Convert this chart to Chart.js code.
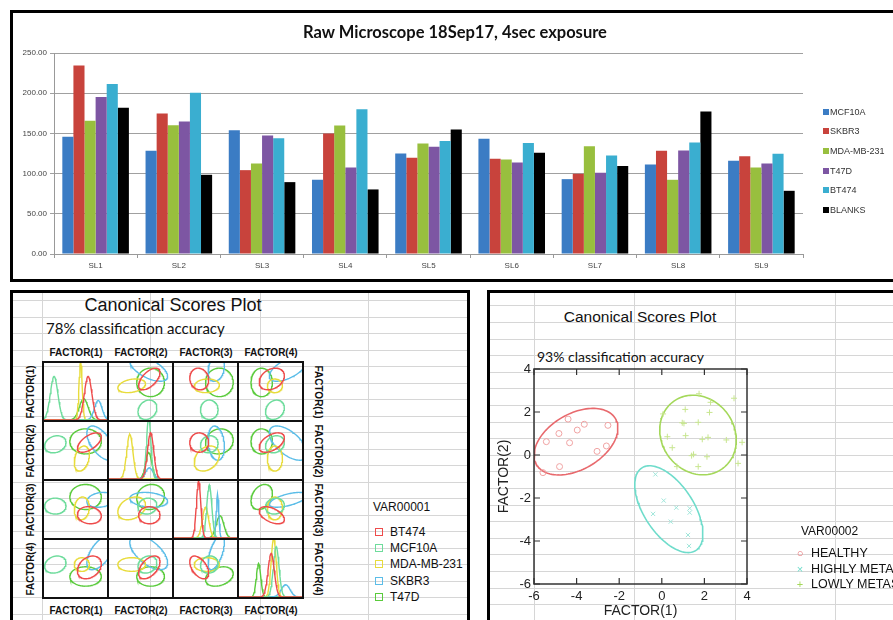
<!DOCTYPE html>
<html>
<head>
<meta charset="utf-8">
<script src="https://cdn.jsdelivr.net/npm/chart.js@4.4.0/dist/chart.umd.min.js"></script>
<style>
  body { margin: 0; width: 893px; height: 620px; overflow: hidden; background: #fff; position: relative; font-family: "Liberation Sans", Arial, sans-serif; }
  .abs { position: absolute; }
  .frame { position: absolute; border: 3px solid #000; box-sizing: border-box; }
  .txt { position: absolute; white-space: nowrap; transform: translate(-50%, -50%); color: #111; }
  .lft { position: absolute; white-space: nowrap; transform: translateY(-50%); color: #111; }
  .hdr { font-size: 10px; font-weight: bold; }
</style>
</head>
<body>
<div id="sheet"></div>
<canvas id="bars" class="abs" width="893" height="280" style="left:0;top:0"></canvas>
<div class="txt" style="left:455px;top:32px;font-size:16.5px;font-weight:bold;font-family:Lato">Raw Microscope 18Sep17, 4sec exposure</div>
<div class="frame" style="left:10px;top:10px;width:900px;height:272px"></div>
<div id="barLegend"></div>

<!-- bottom left panel -->
<div class="txt" style="left:173px;top:305px;font-size:18px">Canonical Scores Plot</div>
<div class="lft" style="left:46px;top:328px;font-size:15px;font-family:Lato">78% classification accuracy</div>
<div id="matrix"></div>
<div id="legend1"></div>
<div class="frame" style="left:10px;top:290px;width:460px;height:340px"></div>

<!-- bottom right panel -->
<div class="txt" style="left:640px;top:317px;font-size:15.5px">Canonical Scores Plot</div>
<div class="lft" style="left:537px;top:356px;font-size:14px;font-family:Lato">93% classification accuracy</div>
<canvas id="scores" class="abs" width="403" height="327" style="left:490px;top:293px"></canvas>
<div id="legend2"></div>
<div class="frame" style="left:487px;top:290px;width:420px;height:340px"></div>

<script>
// ---- top bar chart data ----
const slides = ['SL1', 'SL2', 'SL3', 'SL4', 'SL5', 'SL6', 'SL7', 'SL8', 'SL9'];
const mcf10a = [145.7, 128.3, 154.0, 92.3, 125.0, 143.2, 93.1, 111.3, 115.9];
const skbr3 = [234.3, 174.7, 104.3, 149.8, 119.6, 118.4, 99.8, 128.3, 121.7];
const mda231 = [165.6, 160.2, 112.6, 159.8, 137.4, 117.5, 134.1, 92.3, 107.6];
const t47d = [195.4, 164.7, 147.4, 107.6, 133.3, 113.8, 101.0, 128.7, 112.6];
const bt474 = [211.5, 200.7, 144.0, 180.0, 140.7, 138.2, 122.5, 138.7, 124.6];
const blanks = [182.0, 98.5, 89.4, 80.3, 154.8, 125.8, 109.3, 177.2, 78.6];
const barSeries = ['MCF10A', 'SKBR3', 'MDA-MB-231', 'T47D', 'BT474', 'BLANKS'];
const barColors = ['#3b7cc4', '#c8433c', '#98bf3e', '#7d56a3', '#3aaed0', '#000000'];

// ---- canonical scores matrix (values on a 0..1 scale per factor) ----
const factors = ['FACTOR(1)', 'FACTOR(2)', 'FACTOR(3)', 'FACTOR(4)'];
const cellLines = ['BT474', 'MCF10A', 'MDA-MB-231', 'SKBR3', 'T47D'];
const cellColors = ['#ee4b4b', '#6edc9c', '#e8dc3c', '#5bbde8', '#5acb3c'];
const groupMeans = [
  [0.72, 0.64, 0.40, 0.52],
  [0.18, 0.61, 0.56, 0.57],
  [0.60, 0.36, 0.52, 0.57],
  [0.90, 0.63, 0.67, 0.78],
  [0.66, 0.66, 0.72, 0.36]
];
const groupSpread = [
  [0.19, 0.17, 0.15, 0.20],
  [0.17, 0.15, 0.14, 0.15],
  [0.12, 0.22, 0.20, 0.12],
  [0.22, 0.30, 0.13, 0.30],
  [0.25, 0.22, 0.22, 0.17]
];
// correlations in order 1-2, 1-3, 1-4, 2-3, 2-4, 3-4
const groupCorr = [
  [0.6, -0.1, 0.3, 0.0, 0.5, -0.5],
  [0.2, 0.0, 0.2, 0.1, 0.2, 0.1],
  [0.3, 0.1, 0.0, 0.3, 0.0, 0.0],
  [-0.6, 0.2, 0.6, -0.2, -0.6, 0.6],
  [0.0, 0.0, 0.0, 0.1, 0.0, 0.3]
];
// density peaks per factor: [centre, width, height] for each cell line
const densityF1 = [[0.70, 0.06, 0.78], [0.16, 0.06, 0.78], [0.58, 0.025, 1.05], [0.86, 0.06, 0.35], [0.63, 0.07, 0.38]];
const densityF2 = [[0.66, 0.05, 0.83], [0.63, 0.035, 1.1], [0.33, 0.05, 0.80], [0.64, 0.06, 0.20], [0.63, 0.05, 0.47]];
const densityF3 = [[0.39, 0.035, 1.02], [0.56, 0.04, 0.95], [0.50, 0.05, 0.55], [0.69, 0.02, 0.78], [0.73, 0.06, 0.40]];
const densityF4 = [[0.51, 0.05, 0.78], [0.59, 0.045, 0.90], [0.55, 0.04, 1.05], [0.74, 0.07, 0.22], [0.31, 0.035, 0.60]];
const densities = [densityF1, densityF2, densityF3, densityF4];

// ---- second scores plot ----
const classes = ['HEALTHY', 'HIGHLY METASTATIC', 'LOWLY METASTATIC'];
const healthyX = [-4.40, -3.64, -3.97, -4.83, -5.42, -4.33, -2.53, -2.60, -3.04, -4.80, -5.58];
const healthyY = [1.67, 1.43, 1.16, 1.00, 0.62, 0.57, 1.38, 0.42, 0.17, -0.54, -0.82];
const highlyX = [-0.30, -0.41, 0.09, 0.68, 1.31, 1.31, 0.42, 1.23, 1.28];
const highlyY = [-0.90, -2.74, -2.12, -2.45, -2.48, -2.68, -3.10, -3.72, -4.23];
const lowlyX = [1.75, 0.06, 1.10, 2.29, 3.39, 2.24, 0.96, 1.04, 1.71, 0.26, 1.12, 1.90, 2.17, 3.03, 3.77, 0.49, 1.40, 1.49, 2.12, 3.58, 0.71, 1.71];
const lowlyY = [2.85, 1.91, 2.12, 2.45, 2.64, 1.98, 1.50, 1.47, 1.52, 0.85, 0.90, 0.73, 0.82, 0.70, 0.59, 0.34, -0.03, 0.03, -0.08, -0.39, -0.54, -0.54];
// ellipse: centre x, centre y, semi-major, semi-minor, angle (deg)
const healthyEllipse = [-4.03, 0.62, 2.14, 1.30, 29.6];
const highlyEllipse = [0.33, -2.52, 2.30, 1.16, -56.3];
const lowlyEllipse = [1.70, 0.93, 1.94, 1.70, -51.7];

// spreadsheet gridlines behind the lower panels
function line(x, y, w, h) {
  const d = document.createElement('div');
  d.className = 'abs';
  d.style.cssText = `left:${x}px;top:${y}px;width:${w}px;height:${h}px;background:#d6d6d6`;
  document.getElementById('sheet').appendChild(d);
}
for (let y = 300; y < 620; y += 16.5) line(13, Math.round(y), 454, 1);
[42, 150, 260, 368].forEach(x => line(x, 293, 1, 327));
for (let y = 305.4; y < 620; y += 16.6) line(490, Math.round(y), 403, 1);
[534, 634, 735, 835].forEach(x => line(x, 293, 1, 327));

Chart.defaults.font.family = '"Liberation Sans", Arial, sans-serif';

// ---- bar chart ----
const barData = [mcf10a, skbr3, mda231, t47d, bt474, blanks];
new Chart(document.getElementById('bars'), {
  type: 'bar',
  data: {
    labels: slides,
    datasets: barSeries.map((name, i) => ({
      label: name, data: barData[i], backgroundColor: barColors[i],
      categoryPercentage: 0.8, barPercentage: 1.0
    }))
  },
  options: {
    responsive: false, animation: false, events: [],
    layout: { padding: { top: 53, right: 90 } },
    plugins: {
      legend: { display: false },
      tooltip: { enabled: false }
    },
    scales: {
      x: {
        grid: { offset: true, drawOnChartArea: false, tickLength: 4, color: '#999' },
        border: { color: '#999' },
        ticks: { font: { size: 8 }, color: '#444' },
        afterFit(s) { s.height = 26; }
      },
      y: {
        min: 0, max: 250,
        ticks: { stepSize: 50, callback: v => v.toFixed(2), font: { size: 8 }, color: '#444' },
        grid: { color: '#a0a0a0', tickLength: 4 },
        border: { color: '#999' },
        afterFit(s) { s.width = 54; }
      }
    }
  }
});
const bl = document.getElementById('barLegend');
barSeries.forEach((name, i) => {
  const y = 111.7 + i * 19.6;
  bl.insertAdjacentHTML('beforeend',
    `<div class="abs" style="left:823px;top:${y - 3}px;width:6px;height:6px;background:${barColors[i]}"></div>` +
    `<div class="lft" style="left:830px;top:${y}px;font-size:9px;color:#333">${name}</div>`);
});

// ---- scatter-plot matrix ----
function ellipsePoints(mx, my, sx, sy, r) {
  const pts = [];
  const q = Math.sqrt(1 - r * r);
  for (let k = 0; k <= 120; k++) {
    const t = k / 120 * Math.PI * 2;
    pts.push({ x: mx + sx * Math.cos(t), y: my + sy * (r * Math.cos(t) + q * Math.sin(t)) });
  }
  return pts;
}
function corrIndex(a, b) {
  const lo = Math.min(a, b), hi = Math.max(a, b);
  return [[-1, 0, 1, 2], [0, -1, 3, 4], [1, 3, -1, 5], [2, 4, 5, -1]][lo][hi];
}
function densityPoints(p) {
  const pts = [];
  for (let k = 0; k <= 100; k++) {
    const x = k / 100;
    pts.push({ x, y: p[2] * Math.exp(-((x - p[0]) ** 2) / (2 * p[1] * p[1])) });
  }
  return pts;
}
const mx = document.getElementById('matrix');
const cellW = 63, cellH = 57;
for (let r = 0; r < 4; r++) {
  for (let c = 0; c < 4; c++) {
    const cv = document.createElement('canvas');
    cv.width = cellW; cv.height = cellH;
    cv.className = 'abs';
    cv.style.left = (44 + c * (cellW + 2)) + 'px';
    cv.style.top = (363 + r * (cellH + 2)) + 'px';
    mx.appendChild(cv);
    const sets = cellLines.map((name, g) => {
      const data = r === c
        ? densityPoints(densities[c][g])
        : ellipsePoints(groupMeans[g][c], groupMeans[g][r], groupSpread[g][c], groupSpread[g][r],
            groupCorr[g][corrIndex(r, c)]);
      return { label: name, data, showLine: true, borderColor: cellColors[g], borderWidth: 1.4, pointRadius: 0, fill: false };
    });
    new Chart(cv, {
      type: 'scatter',
      data: { datasets: sets },
      options: {
        responsive: false, animation: false, events: [],
        layout: { padding: 0 },
        plugins: { legend: { display: false }, tooltip: { enabled: false } },
        scales: {
          x: { display: false, min: 0, max: 1 },
          y: { display: false, min: 0, max: r === c ? 1.02 : 1 }
        }
      }
    });
  }
}
// cell borders
for (let i = 0; i < 5; i++) {
  mx.insertAdjacentHTML('beforeend',
    `<div class="abs" style="left:${42 + i * 65}px;top:361px;width:2px;height:238px;background:#111"></div>` +
    `<div class="abs" style="left:42px;top:${361 + i * 59}px;width:262px;height:2px;background:#111"></div>`);
}
factors.forEach((f, i) => {
  const cx = 76 + i * 65, cy = 392 + i * 59;
  mx.insertAdjacentHTML('beforeend',
    `<div class="txt hdr" style="left:${cx}px;top:352px">${f}</div>` +
    `<div class="txt hdr" style="left:${cx}px;top:610px">${f}</div>` +
    `<div class="txt hdr" style="left:30px;top:${cy}px;transform:translate(-50%,-50%) rotate(-90deg)">${f}</div>` +
    `<div class="txt hdr" style="left:318px;top:${cy}px;transform:translate(-50%,-50%) rotate(90deg)">${f}</div>`);
});
const l1 = document.getElementById('legend1');
l1.insertAdjacentHTML('beforeend', `<div class="lft" style="left:373px;top:507px;font-size:12px">VAR00001</div>`);
cellLines.forEach((name, i) => {
  const y = 532 + i * 16.2;
  l1.insertAdjacentHTML('beforeend',
    `<div class="abs" style="left:375px;top:${y - 4}px;width:6px;height:6px;border:1px solid ${cellColors[i]}"></div>` +
    `<div class="lft" style="left:390px;top:${y}px;font-size:12px">${name}</div>`);
});

// ---- right scores plot ----
function rotatedEllipse(e) {
  const pts = [];
  const th = e[4] * Math.PI / 180;
  for (let k = 0; k <= 120; k++) {
    const t = k / 120 * Math.PI * 2;
    pts.push({
      x: e[0] + e[2] * Math.cos(th) * Math.cos(t) - e[3] * Math.sin(th) * Math.sin(t),
      y: e[1] + e[2] * Math.sin(th) * Math.cos(t) + e[3] * Math.cos(th) * Math.sin(t)
    });
  }
  return pts;
}
const zip = (xs, ys) => xs.map((x, i) => ({ x, y: ys[i] }));
const classLine = ['#e8696d', '#6fdccb', '#a4d85a'];
const classPoint = ['#f0a3a3', '#9fe6da', '#c8e690'];
const classStyle = ['circle', 'crossRot', 'cross'];
const boxTicks = {
  id: 'boxTicks',
  afterDatasetsDraw(chart) {
    const { ctx, chartArea: a, scales: { x, y } } = chart;
    ctx.save();
    ctx.strokeStyle = '#333';
    ctx.lineWidth = 1.5;
    ctx.strokeRect(a.left, a.top, a.width, a.height);
    ctx.lineWidth = 1.2;
    ctx.beginPath();
    x.ticks.forEach(t => {
      const p = x.getPixelForValue(t.value);
      ctx.moveTo(p, a.bottom); ctx.lineTo(p, a.bottom - 6);
      ctx.moveTo(p, a.top); ctx.lineTo(p, a.top + 6);
    });
    y.ticks.forEach(t => {
      const p = y.getPixelForValue(t.value);
      ctx.moveTo(a.left, p); ctx.lineTo(a.left + 6, p);
      ctx.moveTo(a.right, p); ctx.lineTo(a.right - 6, p);
    });
    ctx.stroke();
    ctx.restore();
  }
};
const pointSets = [zip(healthyX, healthyY), zip(highlyX, highlyY), zip(lowlyX, lowlyY)];
const ellipseSets = [healthyEllipse, highlyEllipse, lowlyEllipse];
new Chart(document.getElementById('scores'), {
  type: 'scatter',
  data: {
    datasets: [
      ...classes.map((name, i) => ({
        label: name, data: pointSets[i], pointStyle: classStyle[i], pointRadius: 3,
        borderColor: classPoint[i], backgroundColor: 'rgba(0,0,0,0)', borderWidth: 1
      })),
      ...classes.map((name, i) => ({
        label: name + ' ellipse', data: rotatedEllipse(ellipseSets[i]), showLine: true,
        pointRadius: 0, borderColor: classLine[i], borderWidth: 1.6, fill: false
      }))
    ]
  },
  options: {
    responsive: false, animation: false, events: [],
    layout: { padding: { top: 76, right: 146 } },
    plugins: { legend: { display: false }, tooltip: { enabled: false } },
    scales: {
      x: {
        min: -6, max: 4,
        ticks: { stepSize: 2, font: { size: 13 }, color: '#222', padding: 5 },
        grid: { display: false, drawTicks: false },
        border: { display: false },
        title: { display: true, text: 'FACTOR(1)', font: { size: 14 }, color: '#222', padding: 0 },
        afterFit(s) { s.height = 36; }
      },
      y: {
        min: -6, max: 4,
        ticks: { stepSize: 2, font: { size: 13 }, color: '#222', padding: 3 },
        grid: { display: false, drawTicks: false },
        border: { display: false },
        title: { display: true, text: 'FACTOR(2)', font: { size: 14 }, color: '#222', padding: { top: 6, bottom: 0 } },
        afterFit(s) { s.width = 44; }
      }
    }
  },
  plugins: [boxTicks]
});
const l2 = document.getElementById('legend2');
const markerGlyph = ['○', '×', '+'];
l2.insertAdjacentHTML('beforeend', `<div class="lft" style="left:801px;top:531px;font-size:12px">VAR00002</div>`);
classes.forEach((name, i) => {
  const y = 553 + i * 15.5;
  l2.insertAdjacentHTML('beforeend',
    `<div class="txt" style="left:800px;top:${y}px;font-size:11px;color:${classLine[i]}">${markerGlyph[i]}</div>` +
    `<div class="lft" style="left:811px;top:${y}px;font-size:12.5px">${name}</div>`);
});
</script>
</body>
</html>
